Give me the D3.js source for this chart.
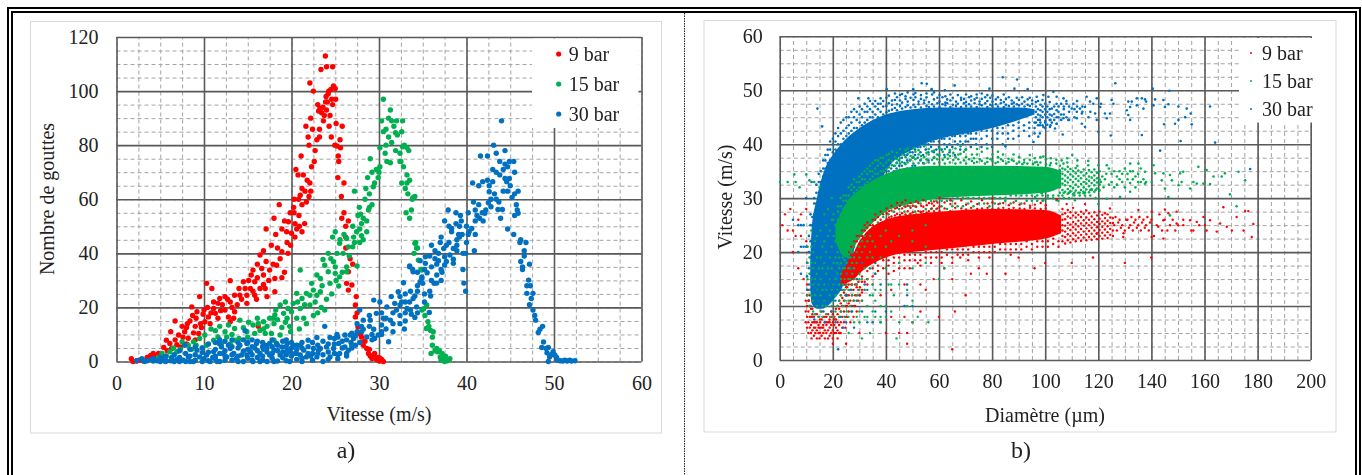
<!DOCTYPE html>
<html><head><meta charset="utf-8">
<script src="https://cdn.jsdelivr.net/npm/d3@7/dist/d3.min.js"></script>
<style>
html,body{margin:0;padding:0;background:#fff;overflow:hidden}
svg{display:block;filter:blur(.4px)}
text{font-family:"Liberation Serif","Times New Roman",serif;fill:#222}
</style></head><body><div id="c"></div>
<script>
const seriesNames=["9 bar","15 bar","30 bar"];
const seriesColors=["#FF0000","#00B050","#0070C0"];
const vitesseTicksA=[0,10,20,30,40,50,60];
const gouttesTicks=[0,20,40,60,80,100,120];
const diametreTicks=[0,20,40,60,80,100,120,140,160,180,200];
const vitesseTicksB=[0,10,20,30,40,50,60];
// rows are [x, y, y, ...]
const pts=rows=>rows.flatMap(r=>r.slice(1).map(y=>[r[0],y]));

const drops9=[[23.87,113],[23.37,108],[24,109],[24.7,109],[22.1,103],[22.5,100],[24.25,100],[24.5,100.6],[24.8,101.9],[25,101],[25.05,97],[23.9,96],[24.1,96],[24.7,95],[23.25,93.6],[23.1,92.6],[23.45,92],[24,93],[23.75,91],[24.4,91],[23.65,89],[24.3,87],[25.1,88],[25.8,87],[21.65,87],[22.4,85.9],[23.2,85.9],[21.9,83],[23.2,83],[22.9,82],[25.55,82],[22,80],[25.2,79.7],[25.6,79],[22.7,78],[21.1,76],[22.6,74],[25.4,74],[22.3,72],[20.5,71],[20.75,69],[21.35,69],[21.8,67],[25.3,68],[26,66],[21.2,64],[21.55,63],[22.2,63],[21,61.5],[22,61],[25.7,61],[20.8,60],[21.7,59],[21.2,58],[18.6,58],[20.25,57],[19.85,55],[20.3,55],[20.85,54],[18,53],[26,55],[25.75,53],[26.5,52],[19.65,51.7],[20.4,51],[21.5,51],[26.2,50],[20.6,49],[18.9,49],[17.1,49],[18.2,47],[19.45,48],[20,47.4],[26.2,46],
[17.7,43],[16.8,41],[16.4,39.4],[18.9,40.6],[19.6,40],[19.5,44],[18.3,35.6],[18.7,38],[16.6,34.4],[17.5,33.8],[15.6,33.8],[15.4,32],[16.8,32],[18.1,30.7],[18.9,31],[13,29.9],[10.3,28.9],[10.9,27],[14.5,29.5],[15.1,30],[15.8,29.5],[14,27],[15.3,27],[16.4,27],[17,27],[18.1,25.8],[9.5,24],[11.8,23.3],[12.4,24],[13.5,24.5],[14.1,24.5],[14.9,24.5],[15.8,24.5],[17.2,24],[16,23],[11.1,22],[11.6,21.5],[13,22],[14.9,21.5],[8.6,20.2],[11.1,19.6],[12.4,19],[10,19],[9.2,18.4],[11.3,17.8],[13.5,18.4],[10.5,16.5],[12.8,16.5],[13.4,16],[11.6,16],[6.7,15],[8.4,15],[10.1,14.7],[10.7,14],[7.5,13],[9,13],[9.7,12.6],[8,12.6],[13,14.7],[6.2,11],[7.8,11],[8.8,10.6],[9.4,10.4],[7.1,9.8],[5.7,7.9],[6.7,8],[6.1,6.7],[5.4,5.2],[7.3,5.4],[6.3,4.8],[4.2,3],[4.8,3],[3.5,1.5],[1.7,1],[1.9,0],[2.9,.8],[16.2,13],
[26.5,26.4],[26.9,28.3],[27.3,20.9],[27.3,16.5],[27.6,12.8],[28.2,6],[28.6,4.8],[28.8,3],[29.4,2.4],[29.2,1.1],[29.7,.8],[30.3,.8],[30.5,0],[26.3,28.9],[26.5,33.2],[26.7,38],[26.2,42],[27,36],[27.4,24],[28,9],[28.4,7.5],[29,2],[29.9,1.5],[30.1,.2],[29.5,3],[28.9,4.5],[27.5,18],
[8.1,14],[8.7,17],[9.1,16],[9.6,14],[9.9,17.5],[10.4,20],[10.8,18],[11.9,18.8],[12.1,21],[12.7,23],[13.2,20],[13.8,21],[14.3,23],[14.7,27],[15.6,26],[16.1,31],[16.8,28.5],[17.4,30],[17.9,36],[19.2,33],[19.9,43],[20.4,46],[21.2,48],[18.4,42],[17.1,37],[16.1,36],[7.6,9],[8.2,8.6],[9,8],[5.8,4],[6.9,6.2],[8,6.5],[4.5,2],[5,1.5],[3.9,2.2],[2.3,.2],[2.6,.5],[3.1,.2],[28.1,7],[27.9,10],[30.1,1.2],[30,.3],[24.2,99],[23.6,94],[23.95,98],[24.6,97],[23,95],[22.2,90],[24.55,83],[24.95,80],[25.35,76],[20.3,60],[19.2,52],[20.9,50],[22.1,66]];

const drops15=[[30.5,97],[31.3,93],[30.3,89],[31.1,90],[31.45,89],[32,89],[32.7,89],[31.7,87],[30.8,85.9],[30.5,85],[31.9,84.6],[32.6,85],[32.1,83.8],[31.45,81],[30.8,80],[30.1,79],[32.7,79.4],[33.2,79],[31.9,78],[32.4,77],[29,75],[30.9,74],[31.3,73.5],[32.4,74],[30.1,72],[29.7,71],[29.2,70],[30,70],[28.7,68],[33.2,69],[33.5,67],[32.6,66],[33.2,66],[33,64],[29.5,66],[29.35,64.6],[28.5,64],[27.2,63],[34.1,61],[33.8,60],[29.2,58],[27.75,57],[28.8,56],[33.7,56],[27.6,54],[28.2,53],[28.6,52],[33.5,53],[27.45,48],[27.8,49],[28.6,48],[24.7,46],[25.55,45],[26.3,45.5],[28.2,45],[27.9,54.5],[28.9,57],[28,51],
[25.5,43.7],[26.5,42.4],[27,42.4],[25.9,40],[25.2,40],[23.6,37.7],[24.8,36.9],[23.8,35.6],[25,35],[26.3,35],[27.5,35.3],[21,33.8],[24.2,33.2],[26.3,33.2],[25,32.6],[22.9,32],[23.3,30.7],[25.5,31.3],[22.3,28.9],[24.4,28.9],[25.4,27.9],[22.5,26.4],[23.3,25.8],[21.7,25.2],[20.6,25.2],[21.2,23.3],[22.1,24.5],[22.9,24.5],[20.2,21.5],[18.7,20.9],[19.6,19.6],[22.1,20.9],[21,19.6],[23.8,19],[20,18.4],[19.1,17.8],[18.1,17.2],[17.5,16],[16.8,14.7],[16.2,14],[19.5,16],[21.4,16],[20.6,16],[15.6,13.5],[14.1,15.3],[18,14],[18.9,12.6],[19.8,13],[17.2,13],[13.5,12.2],[14.9,11],[15.8,10.4],[17,10.4],[17.7,10.4],[12.4,11],[11.3,11.4],[12.6,9.1],[11.6,9.1],[18,7.9],[18.7,9.8],[10.1,9.8],[9.5,8.5],[8.8,7.3],[11.1,7.9],[7.5,7.3],[8.2,6],[10.3,6],[6.9,3.6],[6.1,3.6],[5.2,3],[13.5,7.9],[12,6.7],
[32.9,80],[32.5,74],[33.9,60.7],[34.2,44],[34.4,42],[34,40],[34.5,37.5],[34.8,34],[34.1,43.7],[34.3,42],[34.9,33.8],[35.45,20.9],[34.9,19],[35.25,17],[35.6,14.7],[35.4,12.2],[36.2,11],[36.1,9],[36.1,6],[36.6,4.8],[35.95,3],[37.2,3],[37,1.7],[37.5,0],[38.1,1],[37.8,.3],[36.7,3.6],[37.4,1.1],[35.1,19.5],[35.7,13],[35.9,11.5],[36.9,4],[36.4,4],[37.6,2],[37.1,.5],
[10.8,12],[11.8,13],[12.8,13.5],[13.2,10],[14.5,12.5],[15.1,14.5],[16.4,11.5],[16.8,12],[17.9,16],[18.4,15.5],[19.3,14.5],[19.9,11],[20.9,12],[21.7,14],[22.5,17],[23,18],[23.4,20],[24,23],[24.6,25],[25.1,30],[25.8,33],[24.5,38],[24.2,40],[26.6,39],[27.2,44],[26,47],[25,48],[27,50],[23.5,28],[22.7,22],[21.5,21],[20.7,22],[19.3,22],[18.2,19],[16.1,16],[15,9],[14,8.5],[13,6.5],[9.8,5],[9.1,6],[8.6,4.5],[7.3,4.5],[6.5,5],[5.7,2],[4.8,1.5],[33.4,78],[30.7,77],[31.1,83],[28.9,62],[29.9,68],[28.4,60],[27.8,44],[28,46.5],[27.1,46],[33.1,55],[33.3,62],[32.8,72]];

const drops30=[[44,89],[43.1,80],[41.6,76],[42.4,76],[43.4,77],[44.4,78],[43.8,74],[44.4,73],[44.9,74],[45.4,74],[43,71],[43.4,70],[43.8,69],[45.5,70],[44.4,67.7],[44.9,67.7],[44.6,66.5],[45,65],[40.7,66],[41.4,65],[41.85,66.5],[42.4,67],[43,66.5],[42.6,65],[42.6,62.8],[45.9,63],[45.5,62],[45.2,60.7],[43.4,60],[43.7,59],[40.8,59],[41.4,58],[42.5,58.7],[42.8,57.2],[45.7,58],[45.8,56],[42.2,56],[42.1,54.8],[43.6,56.2],[44.1,56.2],[37.9,56],[45.9,54.8],[45.5,54],[38.8,55],[40.2,55],[39.3,54],[41.2,54],[41.5,53],[41.9,52],[43.9,53],[37.5,52],[39.4,52],[38.8,51],[41,52],[40.6,49.2],[38.3,49.2],[38.3,48],[40.3,48],[44.7,49],[45.4,47],[39.1,47],[39.5,47],[40.2,47],[38.9,45],[46.2,45],[46.8,44],[46.1,44],[46.6,41],[46.6,39],[46.2,37],[47.2,36],[46.4,35],[46.4,34],[40.9,41],[37,44],[36,43],[36.4,41],[37.7,43],[38.5,41.8],[38.1,39.4],[37.4,41.8],[36.8,40],[39.6,40],[39.9,40],[35.8,39],[35.3,38.7],[36.4,38],[37.5,38.7],[34.7,37.3],[36.8,37.3],[37.7,37],[38.5,37.8],[38.5,36.3],[35.3,36.3],[37.5,35.7],[39.6,34],[33.5,35],[33.9,33.2],[37.2,33],[36.6,32],[35.5,32.8],[34.9,31.3],[47.1,30.1],
[46.9,28],[47.3,28],[46.9,25.2],[47.6,25.2],[47.4,23.3],[47.2,21],[47.6,19],[47.8,17],[47.9,15.3],[48.7,13],[48.4,11.9],[48.2,10.7],[48.8,7.2],[48.6,5.2],[49.35,5.2],[49.2,3.2],[49.9,3.6],[49.5,1.7],[49.35,0],[50.3,1.5],[50.7,.3],[51.25,.5],[51.8,.5],[52.4,.3],[50.1,2.4],[50.4,.5],[51,.2],[51.5,.2],[52,.2],[49.7,2.5],[49.1,4.8],
[39.7,29],[39.9,26],[34.7,29.5],[34.9,30.7],[35,28.9],[35.8,26],[35.9,24.2],[34.4,26],[34.1,24.2],[33.9,23.3],[33.5,22],[33,22],[32.6,22],[32.4,20.9],[33.2,19.6],[34.3,20.2],[33.7,17.5],[34.1,16.3],[35.75,18.1],[32.9,12],[36.3,28.9],[33.85,34],[33.5,35.3],[32.8,29.1],
[32.2,25.8],[31.4,24],[29.4,22.7],[30.1,22],[31.8,21.5],[30.9,20.2],[27.8,19],[32,19],[29.7,17.8],[30.5,16],[31.3,15.3],[28.2,15.3],[29,15.3],[27.5,14],[30.3,13.5],[28.2,11.9],[29.4,11.9],[29.9,9.8],[28.6,9.1],[29.5,8.5],[31.1,7.3],[27.5,11],[23.8,13],[26.1,9.8],[26.7,9.8],[27.1,8.5],[25.2,10],[24.4,8.9],[22.9,8.9],[21.9,7.9],[25.4,6.7],[26.1,5.4],[26.5,4.2],[24,5.4],[23.3,4.8],[22.5,4.8],[24.8,4.8],[21,6],[20.2,6],[19.5,6.7],[18.9,5.4],[18,4.2],[17,6],[16,6.7],[14.9,6.7],[14.1,6],[14.7,11.4],[12.8,6],[12,5.4],[11.1,3.6],[13.4,3],[14.3,2.4],[15.3,3.6],[16.4,3],[17.5,2.4],[18.7,2.4],[19.8,3.6],[21,2.4],[21.7,1.7],[22.9,1.7],[24.4,1.7],[21.4,4.2],[23.1,4.2],[20.6,4.5],[19.5,4.2],[18.3,6.7],[15.6,0],[16.4,0],[18,0],[19.8,0],[11.5,0],[10.7,0],[8.8,0],[7.8,6],[9.2,4.2],[10.3,2.4],[9.5,1.7],[8.2,1.7],[6.9,.8],[5.7,.3],[4.6,.3],[3.5,.3],[2.3,.3],[2.9,1],[7.6,.5],[6.3,1.5],[5.2,1],[4,.8],[12.6,1.7],[13.7,1.1],[13,4.8],[17.5,6.7],[14.9,2.4],[22.2,2],[20.4,3],[25.5,3],[26.8,7],[27.8,7],[12.2,3],[11,1.5],[10,1],[15.8,5],[16.8,4.5],
...pts([[3.2,0],[4.2,.2,1],[5,0,1.5],[5.6,0,2],[6.2,.3],[6.6,0,2.5],[7.2,0,1.5,4],[7.9,0,3],[8.4,0,2,4.5],[9,.5,2.5,5.5],[9.8,0,3.3,5],[10.5,.3,3.4,6.5],[11.3,1,2,4.5,7],[11.8,0,3,6.5,8],[12.4,.5,2,4,7.5],[13.2,.5,2.5,5.5,8],[13.9,0,2,5,7],[14.5,0,3.8,8],[15,1.2,4.5,7],[15.5,.5,2.5,5.5,8],[16.1,1.5,4,7.5],[16.7,.6,2,5.5,7],[17.2,0,3.5,5],[17.8,1.2,3,5.5,8],[18.4,.2,4,6],[19,1.4,3.5,7.5],[19.4,.3,2.5,5.5,8],[20,2,5,7],[20.6,.8,3,6],[21.2,0,1.2,5,7],[21.9,3,5.5],[22.4,.4,3,7],[23,3,6],[23.6,0,2.5,7.5],[24.2,.8,3.5,6.5],[24.9,3,6.5,8.5],[25.3,1,2.5,9],[25.8,5,7.5],[26.3,2,3,8],[26.9,5,6,10.5],[27.3,6,9.5],[28,11,13],[28.9,13,17],[29.2,8,10],[30.3,10,11,18],[30.8,12,16],[31.6,11,14,18],[32.4,14,17,24],[33,15,18,25],[33.6,19,26],[34.4,18,28,33],[35.2,22,25,34],[36,30,35],[36.6,29,36],[37.1,30,34,46],[38,44,50],[38.9,41,43],[39.2,46,50],[40,44,50],[41,47,56],[41.8,55],[42.8,60],[43.2,62],[44.2,63,71],[44.7,63,72]])];

// dense core of each cloud in panel b: envelope
const core30D=[11.5,12,14,16,18,20,25,30,35,40,50,60,70,80,90,96];
const core30Lo=[14,10.5,9.5,9.5,10,11,15,24,30,35,39,41,42,43,44.5,45.5];
const core30Hi=[18,24,30,34,36.5,38,41,43,44.5,45.5,46.5,46.8,46.8,46.8,46.8,46.5];
const core15D=[21,25,30,40,50,60,80,100,106];
const core15Lo=[22,19,22.5,27.5,29,30,30.5,31,32];
const core15Hi=[25,29,31.5,34.5,35.8,36,36,35.8,35];
const core9D=[23,28,30,40,50,60,80,100,106];
const core9Lo=[14,15,16,19,20,20.5,21.5,22.5,23.5];
const core9Hi=[16,20,22,26,27,27.5,28,27.8,26.8];

const edge30=pts([[10.3,13,15.5,18,21],[11,11,14,17,20,23],[11.6,10,13,16,19,22,25,27],[12.3,22,25,26.5,8],[13,27,29,30,7.5],[13.8,29,31,32.5,7],[14.7,31,33,34.5],[15.5,33,35],[16.4,34,35.5,37],[17.2,35.5,37,38],[18.1,36.5,38,39],[19,37,39,40.5],[20,38.5,40,41],[21,39,40.5,42],[22,40,41.5,43],[23,40,42,44],[24,41,42.5,44.5],[25.1,41.5,43,45],[26,42,43.5,45],[27,42.5,44,46],[28,43,45,46.5],[29,43,44.5,46],[30.1,44,45.5,47],[31,43.5,45,46.5],[32,44,46,47.5],[33,44.5,46,47],[34,45,46.5,48],[35,45,46,47.5],[36,45.5,47,48],[37,45,46.5,47.5],[38,46,47.5,48.5],[39,45.5,47,48],[40.2,45.9,47.1,48.6],[41.1,46.2,47.6,49],[42.3,46.4,47.3,48.1],[43.4,46.7,48.2,49.4],[44.2,46.3,47.4,48.7],[45.3,47.1,48.1,49.1],[46.1,46.6,47.7,49.3],[47.4,46.9,48.4,48.9],[48.2,47.2,47.9,49.6],[49.3,46.8,48.6],[50.4,47.3,48.2,49.2],[51.1,46.9,48.7,49.5],[52.3,47.4,47.9],[53.2,46.8,48.4,49.1],[54.4,47.6,48.1],[55.3,47.1,48.7,49.4],[56.2,46.9,47.8],[57.4,47.4,49.2],[58.1,47,48.3,49.6],[59.4,47.6,48.6],[60.2,46.9,47.9,49.1],[61.3,47.4,48.7],[62.4,47.2,47.7,48.9],[63.1,47.6,48.3],[64.3,46.9,48.1,49.2],[65.2,47.3,48.6],[66.4,47.1,47.9],[67.1,47.5,49.1],[68.3,46.9,48.2,48.6],[69.4,47.6,48.4],[70.2,47.1,47.8,49.2],[71.3,47.4,48.7],[72.1,47,48.1,48.9],[73.4,47.6,48.3],[74.2,46.9,48.6,49.2],[75.3,47.4,47.9],[76.1,47.2,48.4,49.4],[77.4,47.6,48.7],[78.2,46.9,48,49.1],[79.3,47.3,48.6],[80.1,47.1,47.9,49],[81.4,47.4,48.3],[82.2,47,48.7],[83.3,47.6,48.2],[84.4,46.9,47.8,49.2],[85.2,47.3,48.4],[86.3,47.1,48.7],[87.4,47.5,48.1],[88.2,47,47.7],[89.3,47.4,48.6],[90.1,47.2,48.2],[91.3,47.5,48.7],[92.2,47,47.9],[93.4,47.3,48.3],[94.2,47.1,48.6],[95.1,47.5,48.1]]);
const under30=pts([[35.5,29,28,27],[37,31,30,29],[38.5,33,32,30.5],[39.5,34,33,31.5],[41,35,34,33],[42,35.5,34.5,33],[43,36,35,34],[44,36.5,35.5],[45,37,36,34.5],[46,37.5,36,35],[47,38,36.5],[48,38,37,35.5],[49,38.5,37],[50,38.5,37.5,36],[51,39,38,36],[52,39.5,37.5],[53,39.5,38.5,37],[54,40,38,36.5],[55,40,39],[56,40,38.5,37],[57,40.5,39.5],[58,40.5,38.5,37.5],[59,41,39],[60,40.5,39.5,38],[61,41,39],[62,41,40,38],[63,41.5,39.5],[64,41,40,38.5],[65,41.5,39.5],[66,41.5,40.5,38],[67,42,40],[68,41.5,40.5,39],[69,42,40],[70,41.5,40.5,39],[71,42,40.5],[72,42,41,39.5],[73,42.5,41],[74,42,41,40],[76,42.5,41,39.5],[78,42.5,41.5,40],[80,42.5,41,39.5],[82,43,42,41],[84,43,42,40],[86,43.5,42,41],[88,43.5,42.5,41],[90,44,43,41.5],[92,43.5,42.5],[94,44,43,41.5],[96,44,43,42],[98,44.5,43.5,42],[100,44,43],[102,44.5,43.5]]);
const tail30=pts([[96.5,44,45,46,47,47.8],[97.3,43.5,44.5,45.5,46.5,48],[98.2,44,45.3,46.3,47.3],[99,43.5,45,46,47,48.2],[100,44.3,45.5,46.5,47.5],[100.8,43.6,45,46,47],[101.7,44.5,45.5,46.5,47.8],[102.5,44,45.3,46.6],[103.4,44.5,45.6,47],[104.3,43.8,45,46.3,47.5],[105,45,46,47],[106,44.5,45.5,47.5],[107,45.5,46.5,47],[108,45,47.5,48],[109,44.5,46,47],[111,45,46.5],[112,47,48],[114,46,47]]);
const cloud30=[[14.2,46.6],[29.6,48.5],[33.4,48.5],[16,43.3],[40.3,50.2],[53.5,51.3],[55.4,51.2],[50.3,50.2],[65.9,50.9],[57.2,50.2],[62.2,50],[79,50.3],[84,52.4],[89.4,52],[88.4,50.3],[93.4,50.2],[85,39.6],[126.4,51.3],[140.5,50.3],[146.8,49.9],[162.1,47],[150.2,47],[153.3,46.6],[154.8,45.7],[150.2,44.5],[152.7,45],[148.9,43.8],[144.8,43.7],[155.2,43.7],[151,40.6],[164,40.3],[143.3,38.8],[177.2,35.4],[136.4,41.7],[124.7,41.6],[120,42.3],[106.6,41.8],[97.4,41.4],[95.6,40.4],[140.8,47.2],[145.1,46.9],[146.4,47.4],[144.5,48.2],[141.4,48.3],[137.6,48.3],
[125,48.2],[125.7,47.5],[122.5,45.7],[124.4,45.7],[123.2,44.8],[131.3,47.9],[132.6,47.9],[134.5,48.5],[136.4,48.5],[138,47.9],[137,46.6],[134.5,47.2],[130.7,46.3],[132,46.9],[131.3,45.4],[132,44.5],[116.9,47.9],[115.6,48.8],[119.4,48.5],[118.1,47.5],[120.7,46.9],[115,46.9],[113.1,46.6],[111.9,46],[113.8,45.7],[110.6,47.5],[110,46.6],[111.9,44.8],[113.8,43.8],[115,43.2],[116.3,45],[118.8,45.7],[119.4,44.5],[106.9,44.8],[104.3,43.8],[103.7,42.9],[101.8,43.2],[99.3,43.2],[104.3,48.8],[103.1,49.7],[101.2,48.8],[99.3,49.1],[96.8,48.8],[106.9,48.5],[108.7,44.5],[117,46],[121,47.5],[8,25],[7,25],[5,26],[9,25],[7,20],[5,20],[8,16],[10,30],[12,33],[8,21],[9,21],[10,21],[35,7],[38,14],[47,10],[48,14],[38,7],[22,2],[32,14],[34,17],[36,18],[25,14],[27,16],[28,10],[30,12]];

const edge15=pts([[20,26],[22,26,27.5,28.5],[23,27,28.5,30],[24,28,29.5,30.5],[25,29.5,30.5],[26,29.5,30.5,32],[27,30,31.5,32.5],[28,31,32,33.5],[29,31.5,33],[30,32,33,34],[31,32,33.5,34.5],[32,32.5,33.5,35],[33,33,34.5,35.5],[34,33.5,35,36],[35,34,35,36.5],[36,34.5,35.5,37],[37,34.5,36,37],[38,35,36.5,37.5],[39,35,36,37.5],[40.2,35.4,36.6,38],[41.1,35.7,37.1,38.2],[42.3,36.1,36.9,38.6],[43.4,36,37.6],[44.2,36.6,37.2,38.4],[45.3,36.4,37.4,39.1],[46.1,36.7,38.1],[47.4,36.3,37.6,38.9],[48.2,36.6,38.2,39.2],[49.3,37.1,37.8],[50.4,36.4,37.6,39.3],[51.1,37.2,38.6],[52.3,36.5,38.1,38.9],[53.2,37.1,37.8],[54.4,36.4,37.6,39.6],[55.3,37.2,38.4],[56.1,36.6,38.1,39.1],[57.4,37.1,38.7],[58.2,36.4,37.6,38.8],[59.3,37.2,38.1],[60.1,36.6,37.9,39.2],[61.4,37.1,38.6],[62.2,36.4,37.6,39.1],[63.3,37.3,38.1],[64.1,36.6,37.8,38.9],[65.4,37.1,38.4],[66.2,36.4,37.6,39.2],[67.3,37.2,38.1],[68.1,36.6,38.2,39.6],[69.4,37,38.6],[70.2,36.4,37.6,39],[71.3,37.2],[72.4,36.9,38.1],[73.2,36.5,37.4],[74.3,36.7,38.1,39.1],[75.4,37.2],[76.1,36.9,38.6],[77.3,36.4],[78.2,36.7,37.4,39.2],[79.4,37.2],[80.1,36.9,38.1],[81.3,36.5],[82.2,36.7,37.6,38.6],[83.4,37.2],[84.1,36.9,38.1],[85.3,36.4],[86.2,36.7,37.3],[87.4,37.1],[88.1,36.9,38.1],[89.3,36.4],[90.2,36.7,37.6],[91.4,36.3],[92.1,36.6,37.1],[93.3,36.4],[94.2,37.1,38],[95.4,36.3],[96.1,36.6,37.4],[97.3,36.2],[98.2,36.6,37.6],[100.3,36.3,37.2],[102.1,36.5,37.4],[104.2,36.4,37.1],[108.3,36.6,37.4],[112.1,36,37],[116.2,36.1,36.9]]);
const under15=pts([[31,21.5,20.5],[33,23.5,22],[35,24.5,23],[37,25.5,24.5],[39,26.5,25],[41,27,26],[43,27.5,26],[45,28,26.5],[47,28.5,27.5],[49,28.5,27],[51,28.5,27.5],[53,29,27.5],[55,29.5,28],[57,29.5,28],[59,29.5,28],[61,29.5,28.5],[63,29.5,28],[65,29.5,28.5],[67,30,28.5],[69,30,28.5],[71,30,29],[73,30,28.5],[75,30,29],[77,30,29],[79,30,28.5],[81,30,29],[83,30,29],[85,30,29.5],[87,30.5,29],[89,30.5,29.5],[91,30.5,29],[93,30.5,29.5],[95,30.5,29.5],[97,30.5,29.5],[99,30.5,29.5],[101,30.5,30],[103,30.5,30],[105,30.5,29.5],[107,31,30],[109,31,30],[111,31,30.5],[113,31,30.5],[115,31,30.5],[117,31.5,30.5],[119,31.5,30]]);
const tail15=pts([[105.5,31,32,33,34,35.2,36],[106.5,30.5,31.5,32.7,33.6,34.5,35.5],[107.5,31.2,32.4,33.2,34.2,35.3],[108.5,30.8,31.7,32.9,33.8,34.9,35.8],[109.5,31.3,32.2,33.4,34.4,35.4],[110.5,30.7,31.9,33,34,35],[111.5,31.4,32.5,33.6,34.6,35.6],[112.5,31,32.1,33.2,34.1,35.1],[113.5,31.5,32.6,33.7,34.8],[114.5,30.9,32,33,34.2,35.3],[115.5,31.6,32.7,33.5,34.6],[116.5,31.1,32.2,33.2,34,35.2],[117.5,31.7,32.8,33.8,34.8],[118.5,31.2,32.4,33.3,34.2,35.3],[119.5,31.8,32.9,33.7,34.7],[120.5,31.4,32.5,33.4,35]]);
const cloud15=[[121,33],[123,34.5],[125,33],[127,34],[129,33],[131,34.5],[133,33.5],[135,34.5],[137,33.5],[122,32],[126,32],[130,32],[134,32],[138,33],[124,35.5],[128,35],[132,35],[136,35.5],[121.5,34],[124,32.5],[126,35],[128,33.5],[130,35.5],[132,32.8],[134,34],[136,33],[122.5,33.5],[125,34.5],[127,32.5],[129,34.5],[131,33.5],[133,35],[135,33],
[110.2,38],[99.3,37.7],[106.2,37],[96.8,36.7],[101.8,36.1],[106.9,36.4],[120,36.1],[123.2,36.1],[132,36.4],[135.1,36.4],[140.8,36.1],[137.6,34.9],[141.4,34.6],[144.5,34.6],[147,34.3],[150.8,34.6],[152,34.9],[157.7,35.8],[160.8,35.2],[163.4,34],[166.5,34],[167.7,34.6],[172.8,34.9],[175.3,33.3],[169.6,30.7],[146.4,30.2],[140.1,33],[143.9,33.3],[147.7,33.3],[150.2,32.4],[154.6,31.8],[155.8,33],[159.6,32.7],[162.1,32.6],[157.1,32.7],[151.4,33],[145.1,31.8],[137.6,32.7],[132,31.2],[128.2,30.2],[123.2,29.9],[120,28.9],[111.2,29.6],[104.3,29.6],[99.3,29.6],[96.2,30.2],[117.5,31.5],[114.4,31.2],[109.4,31.2],[172.1,28.5],[147,26.8],[98.7,30.9],
[.1,33],[3,33],[5.5,34.4],[7.5,32],[10,34.4],[11.2,33.3],[6,33],[13,33],[15,32]];

const edge9=pts([[24,15.5,17],[26,17,18.5,20],[27,18,19.5,21],[28,19.5,21,22],[29,20.5,22,23],[30,21.5,23],[31,22,23,24],[32,22.5,24,25],[33,23,24.5,25.5],[34,24,25],[35,24,25,26],[36,24.5,26,27],[37,25,26.5],[38,25,26,27.5],[39,25.5,27],[40.3,26.1,27.2,28.1],[41.2,26.4,27.6],[42.1,26.6,27.7,28.6],[43.4,26.8,28.1],[44.2,27.1,28.2,29.1],[45.3,26.9,28.6],[46.1,27.2,28.1,29.2],[47.4,27,28.4,29.6],[48.2,27.6,28.6],[49.3,27.1,28.2,29.1],[50.1,27.4,28.6],[51.4,27,28.4,29.4],[52.2,27.6,29.1],[53.3,27.4,28.6],[54.1,27.6,28.4,29.6],[55.4,27.3,28.7],[56.2,27.6,29.1],[57.3,28.1,29],[58.1,27.6,28.6,29.4],[59.4,28.1,29.2],[60.2,27.6,28.4,30.1],[62.1,28.1,29.2],[64.3,27.6,28.9,29.6],[66.1,28.2,29],[68.4,28.1,29.6],[70.2,27.9,28.8],[72.1,28.2,29.4],[74.4,28,28.9],[76.2,28.1,29.6],[78.3,28.2,29],[80.1,28,29.2,30],[82.4,28.1,28.9],[84.2,28.2,29.1],[86.3,28,28.7],[88.1,28.2,29.2],[90.4,28.1,28.8],[92.2,28,29],[94.3,28.2,28.6],[96.1,28.1,28.8],[98.3,28,29.1],[100.2,28.1,28.7]]);
const under9=pts([[25,13.5,14.5],[27,14,13],[29,15,14],[31,15.5,14.5,13],[33,16.5,15],[35,17,15.5,14],[37,17.5,16.5],[39,18.5,17],[41,18.5,17.5,16],[43,19,18,16.5],[45,19,18,17],[47,19.5,18.5,17],[49,19.5,18.5,17],[51,19.5,18.5],[53,19.5,18.5,17.5],[55,20,19],[57,20,19,18],[59,20,19],[61,20,19,18],[63,20.5,19.5],[65,20.5,19,18],[67,20.5,19.5],[69,20.5,19.5],[71,20.5,19.5,18.5],[73,21,20],[75,21,20,19],[77,21,20],[79,21,20,19],[81,21,20],[83,21.5,20.5],[85,21.5,20.5],[87,21.5,20.5,19.5],[89,21.5,20.5],[91,21.5,20.5],[93,22,21],[95,21.5,20.5],[97,22,21],[99,22,21],[101,22,21],[103,22.5,21.5],[105,22,21]]);
const tail9=pts([[106.5,22,23,24,25,26,27,28],[107.5,21.6,22.8,23.8,24.9,26.1,27.2],[108.5,22.2,23.3,24.4,25.4,26.6,27.8],[109.5,21.8,23,24.1,25.1,26.3,27.4],[110.5,22.4,23.5,24.6,25.6,26.8,28.2],[111.5,22,23.1,24.2,25.2,26.4,27.3],[112.5,22.6,23.7,24.8,25.8,26.9],[113.5,22.1,23.2,24.3,25.3,26.5,27.5],[114.5,22.7,23.8,24.9,25.9,27.1],[115.5,22.2,23.3,24.4,25.4,26.4,27.7],[116.5,22.8,23.9,25,26,27.2],[117.5,22.3,23.4,24.5,25.5,26.6],[118.5,22.9,24,25.1,26.1,27.4],[119.5,22.4,23.5,24.6,25.6,26.8],[120.5,23,24.1,25.2,26.2,27.5],[121.5,22.5,23.6,24.7,25.7,26.9],[122.5,23.1,24.2,25.3,26.3,27.2],[123.5,22.6,23.7,24.8,25.8,27],[124.5,23.2,24.3,25.4,26.4],[125.5,23,24,25.4,26.3]]);
const lobe9=pts([[9.8,7,9,11],[10.3,6,8,10,12,14],[10.8,5,7,9,11,13],[11.3,6,8,10,12],[11.8,5,6.5,8,9.5],[12.3,5.5,7,8.5,9.5],[12.9,4.5,6,7,8],[13.4,5,6,7,8.5],[14,4,5.5,7,8.5],[14.6,5,6,6.5,8],[15.2,5,6,7,7.5],[15.8,4.5,6,7.5,9],[16.4,5,6,6.5,8],[17,4,5.5,7,8],[17.6,5,6.5,7,8],[18.2,4,5.5,7,8.5],[18.8,4.5,6,7,7.5],[19.4,5,6.5,8,9],[20,4,5.5,7,8.5],[20.6,5,6.5,7.5,8],[21.2,5,6,7.5,9.5],[21.8,4,5.5,7,8.5,10],[22.4,5,6.5,8,9.5,11],[23,5,7,9,10.5,12],[23.6,6,8,10,11.5,13],[24.2,7,9,11,12.5,14],[24.8,6,8,10,12,14],[25.4,8,10,12,13.5],[26,9,10.5,12,14],[26.6,7,11,13,15],[27.2,10,12,14],[27.8,8,11,13,15],[28.4,10,12,14],[29,9,12,13.5],[29.6,11,13,14.5],[30.2,12,13.5],[31,11,12.5],[32,13,14.5],[33,14,15]]);
const cloud9=[[126,25],[128,26],[130,24],[132,25],[134,26],[136,24],[138,25],[140,26],[142,25],[144,24],[127,24],[129,25],[131,26],[133,24],[135,25],[137,26],[139,24],[141,23],[143,27],[145,26],[147,25],[149,24],[146,24],[148,26],[150,25],[152,26],[155,24],[158,25],[126.5,26.5],[127.5,25.5],[128.5,24.5],[129.5,23.5],[130.5,26],[131.5,24.5],[132.5,26.5],[133.5,25.5],[134.5,24.5],[135.5,26.5],[136.5,25.5],[137.5,24.5],[138.5,26.5],[139.5,25.5],
[104.3,29.8],[108.1,28.9],[115,28.9],[124.4,28.1],[135.1,27.8],[140.1,27.5],[145.1,27.9],[149.5,27.5],[167.1,28.3],[175.3,27.6],[176.5,27.6],[172.1,26.5],[178.4,25.2],[174.7,24],[177.8,22.8],[170.3,24],[168.4,24.7],[165.9,25.3],[162.1,25.9],[159.6,26.5],[154.6,25.9],[157.1,25.6],[152,25],[149.5,25.3],[160.8,24],[164.6,23.8],[160.2,25],[155.8,24],[146.4,27.2],[142.6,24.7],[144.5,25.9],[140.1,22.8],[144.5,22.5],[129.4,22.8],[119.4,23.4],
[65,2],[48,3],[40,5],[45,5],[48,5],[30,5],[25,3],[15,4],[12,4],[20,3],[50,7],[42,8],[47,8],[53,9],[60,8],[66,9],[38,12],[42,13],[47,14],[55,13],[70,12],[65,15],[72,16],[58,15],[53,14],[52,18],[62,17],[68,19],[78,16],[75,17],[85,16],[90,19],[100,18],[110,18],[118,19],[130,18],[140,19],[96,17],[3,24],[5,24],[1,25],[7,26],[10,22],[5,20],[8,27],[2,27],[6,23],[7,17],[9,15],[4,28],[10,28],[8,23]];
// small green and blue marks seen on top of the red and blue masses
const over15=pts([[10.5,12,15,18,21],[11.2,10,13,16,19],[11.9,12,15,18,21,24],[12.6,9,11,14,17,20],[13.3,8.5,12,15,18,22],[14,10,13,16,19,23],[14.7,8,11,14,17],[15.4,9,12,15,19,24],[16.1,8,10,13,17,21],[16.8,11,14,18,22,27],[17.5,8.5,10,13,16,20,25],[18.2,11,14,17,23,28],[18.9,8,12,15,19,24],[19.6,10,13,17,21,26,30],[20.3,8,11,14,18,23,27],[21,9,12,15,19,22,25],[21.7,10,13,16,18,20,23],[22.4,8,11,14,17,19,21],[23.1,9,12,15,16,18,20],[23.8,10,13,14,17,19,21],[24.5,8,11,13,15,17,18.5,20],[25.2,9,12,14,16,18,20],[25.9,8,11,13,15,17,19,21],[26.6,10,13,15,17,19],[27.3,9,12,14,16,18,20,22],[28,7,11,15,17,19,21],[29,8,12,14,18,20],[30,9,13,16,19,21],[31,11,15,18,20,22],[32,8,13,17,21,23],[33,10,15,19,22],[34,12,17,20,23],[35,9,14,19,22],[36,11,16,21],[38,8,13,19,23],[40,10,17,21,24],[42,9,14,22],[45,7,18,23],[50,22,24],[55,21,25],
[30,7],[33,8],[36,8],[38,7],[40,8],[34,5],[31,4],[26,5],[44,4],[45,14],[48,13],[50,17],[55,18],[50,7],[56,7],[60,15],[52,8],[43,12],[38,10],[35,12],[62,17],[41,14],[50,11],[48,10],[30,15],[36,13]]);
const over30=pts([[12.5,16,19],[13.5,13,20],[15,11,16],[16.5,9,12],[18,11,14],[19.5,9,15],[21,7,11,14],[23,8,13],[25,7,12,16],[27,9,13,17],[29,11,15],[31,9,18],[33,7,13],[24,6],[28,6],[17,7],[36,9,16],[40,9],[48,12],[50,10]]);

const W=1362,H=475;
const svg=d3.select("#c").append("svg").attr("width",W).attr("height",H);
const frame=svg.append("g").attr("stroke","#000").attr("fill","none");
frame.append("path").attr("d",`M8,${H}V8H1360V${H}`).attr("stroke-width",2);
frame.append("path").attr("d",`M12,${H}V12H1356V${H}`).attr("stroke-width",2);
svg.append("line").attr("x1",684.5).attr("x2",684.5).attr("y1",13).attr("y2",H).attr("stroke","#222").attr("stroke-width",1).attr("stroke-dasharray","1.5 1");

function panel(o){
  svg.append("rect").attr("x",o.card[0]).attr("y",o.card[1]).attr("width",o.card[2]-o.card[0]).attr("height",o.card[3]-o.card[1]).attr("fill","#fff").attr("stroke","#d9d9d9").attr("stroke-width",1);
  const x=d3.scaleLinear().domain(o.xd).range([o.l,o.r]);
  const y=d3.scaleLinear().domain(o.yd).range([o.b,o.t]);
  const g=svg.append("g");
  const h=o.b-o.t,w=o.r-o.l;
  const minor=(ax)=>ax.tickFormat("").tickSizeOuter(0);
  const gmx=g.append("g").attr("transform",`translate(0,${o.b})`).call(minor(d3.axisBottom(x).tickValues(o.xm).tickSize(-h)));
  const gmy=g.append("g").attr("transform",`translate(${o.l},0)`).call(minor(d3.axisLeft(y).tickValues(o.ym).tickSize(-w)));
  [gmx,gmy].forEach(s=>{s.select(".domain").remove();s.selectAll("line").attr("stroke","#a3a3a3").attr("stroke-width",1).attr("stroke-dasharray","4 3");});
  const gx=g.append("g").attr("transform",`translate(0,${o.b})`).call(d3.axisBottom(x).tickValues(o.xt).tickSize(-h).tickSizeOuter(0).tickPadding(o.xpad));
  const gy=g.append("g").attr("transform",`translate(${o.l},0)`).call(d3.axisLeft(y).tickValues(o.yt).tickSize(-w).tickSizeOuter(0).tickPadding(o.ypad));
  [gx,gy].forEach(s=>{s.select(".domain").remove();s.selectAll("line").attr("stroke","#5a5a5a").attr("stroke-width",1.6);s.selectAll("text").attr("font-size",20).attr("font-family",'"Liberation Serif"').attr("fill","#222");});
  svg.append("text").attr("x",o.xlab[0]).attr("y",o.xlab[1]).attr("text-anchor","middle").attr("font-size",20).text(o.xtitle);
  svg.append("text").attr("transform",`translate(${o.ylab[0]},${o.ylab[1]}) rotate(-90)`).attr("text-anchor","middle").attr("font-size",20).text(o.ytitle);
  svg.append("text").attr("x",o.cap[0]).attr("y",o.cap[1]).attr("text-anchor","middle").attr("font-size",24).text(o.captext);
  return {x,y};
}

const A=panel({card:[30.5,21.5,661.5,433],l:116.5,r:641.5,t:37,b:361.5,xd:[0,60],yd:[0,120],
  xt:vitesseTicksA,yt:gouttesTicks,xm:d3.range(0,60.1,2.5),ym:d3.range(0,120.1,5),xpad:14,ypad:18,
  xlab:[379,421],ylab:[54,199],xtitle:"Vitesse (m/s)",ytitle:"Nombre de gouttes",cap:[346,458],captext:"a)"});
[drops9,drops15,drops30].forEach((d,i)=>{
  svg.append("g").attr("fill",seriesColors[i]).selectAll("circle").data(d).join("circle")
    .attr("cx",p=>A.x(p[0])).attr("cy",p=>A.y(p[1])).attr("r",2.7);
});
svg.append("rect").attr("x",532).attr("y",38.5).attr("width",106.5).attr("height",89.5).attr("fill","#fff");
seriesNames.forEach((n,i)=>{
  svg.append("circle").attr("cx",558.7).attr("cy",54+i*30).attr("r",2.6).attr("fill",seriesColors[i]);
  svg.append("text").attr("x",568.7).attr("y",61+i*30).attr("font-size",20).text(n);
});

const B=panel({card:[704,20.5,1336,432],l:779.7,r:1310.7,t:36.3,b:360,xd:[0,200],yd:[0,60],
  xt:diametreTicks,yt:vitesseTicksB,xm:d3.range(0,200.1,5),ym:d3.range(0,60.1,2.5),xpad:14,ypad:17,
  xlab:[1045,422],ylab:[732,197],xtitle:"Diamètre (µm)",ytitle:"Vitesse (m/s)",cap:[1021,458],captext:"b)"});
const clouds=[
 [2,core30D,core30Lo,core30Hi,[...edge30,...under30,...tail30,...cloud30],1.3],
 [1,core15D,core15Lo,core15Hi,[...edge15,...under15,...tail15,...cloud15],1.3],
 [0,core9D,core9Lo,core9Hi,[...edge9,...under9,...tail9,...lobe9,...cloud9],1.2]];
clouds.forEach(([c,D,Lo,Hi,p,r])=>{
  const area=d3.area().x(d=>B.x(d)).y0((d,i)=>B.y(Lo[i])).y1((d,i)=>B.y(Hi[i])).curve(d3.curveMonotoneX);
  svg.append("path").attr("d",area(D)).attr("fill",seriesColors[c]);
  svg.append("g").attr("fill",seriesColors[c]).selectAll("circle").data(p).join("circle")
    .attr("cx",q=>B.x(q[0])).attr("cy",q=>B.y(q[1])).attr("r",r);
});
[[1,over15],[2,over30]].forEach(([c,p])=>{
  svg.append("g").attr("fill",seriesColors[c]).selectAll("circle").data(p).join("circle")
    .attr("cx",q=>B.x(q[0])).attr("cy",q=>B.y(q[1])).attr("r",1.2);
});
svg.append("rect").attr("x",1239).attr("y",38).attr("width",73).attr("height",84.5).attr("fill","#fff");
seriesNames.forEach((n,i)=>{
  svg.append("circle").attr("cx",1251).attr("cy",53+i*28).attr("r",1).attr("fill",seriesColors[i]);
  svg.append("text").attr("x",1262).attr("y",60+i*28).attr("font-size",20).text(n);
});
</script></body></html>
